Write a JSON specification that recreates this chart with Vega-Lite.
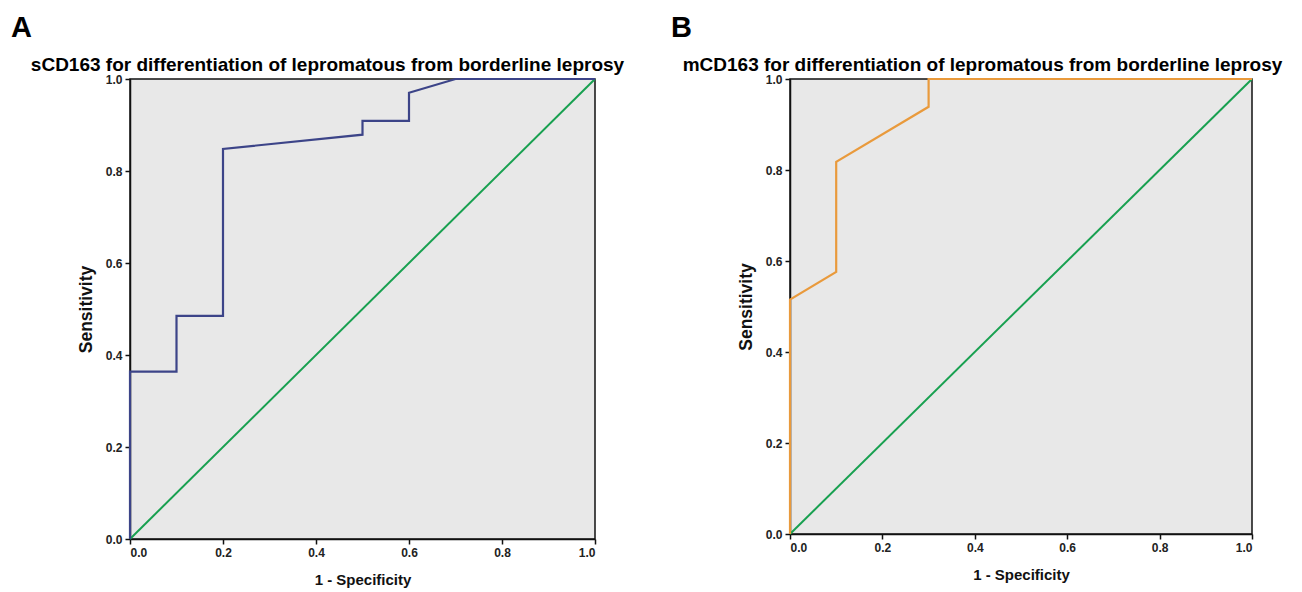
{
  "$schema": "https://vega.github.io/schema/vega-lite/v6.json",
  "autosize": {"type": "pad"},
  "padding": {"left": 10, "top": 13, "right": 5, "bottom": 5},
  "background": "white",
  "bounds": "flush",
  "spacing": 195,
  "config": {
    "font": "Liberation Sans",
    "view": {"fill": "#e8e8e8", "stroke": "#111111", "strokeWidth": 1.5},
    "axis": {
      "domainColor": "#111111", "domainWidth": 1.5,
      "tickColor": "#111111", "tickWidth": 1.5, "tickSize": 5,
      "labelFont": "Liberation Sans", "labelFontSize": 12, "labelFontWeight": "bold", "labelColor": "#222222", "labelPadding": 3,
      "titleFont": "Liberation Sans", "titleFontSize": 15, "titleFontWeight": "bold", "titleColor": "#111111",
      "grid": false
    }
  },
  "datasets": {
    "rocA": [
      {"i": 0, "fpr": 0.0, "tpr": 0.0},
      {"i": 1, "fpr": 0.0, "tpr": 0.364},
      {"i": 2, "fpr": 0.1, "tpr": 0.364},
      {"i": 3, "fpr": 0.1, "tpr": 0.485},
      {"i": 4, "fpr": 0.2, "tpr": 0.485},
      {"i": 5, "fpr": 0.2, "tpr": 0.848},
      {"i": 6, "fpr": 0.5, "tpr": 0.879},
      {"i": 7, "fpr": 0.5, "tpr": 0.909},
      {"i": 8, "fpr": 0.6, "tpr": 0.909},
      {"i": 9, "fpr": 0.6, "tpr": 0.97},
      {"i": 10, "fpr": 0.7, "tpr": 1.0},
      {"i": 11, "fpr": 1.0, "tpr": 1.0}
    ],
    "rocB": [
      {"i": 0, "fpr": 0.0, "tpr": 0.0},
      {"i": 1, "fpr": 0.0, "tpr": 0.515},
      {"i": 2, "fpr": 0.1, "tpr": 0.576},
      {"i": 3, "fpr": 0.1, "tpr": 0.818},
      {"i": 4, "fpr": 0.3, "tpr": 0.939},
      {"i": 5, "fpr": 0.3, "tpr": 1.0},
      {"i": 6, "fpr": 1.0, "tpr": 1.0}
    ],
    "diag": [
      {"i": 0, "fpr": 0.0, "tpr": 0.0},
      {"i": 1, "fpr": 1.0, "tpr": 1.0}
    ]
  },
  "hconcat": [
    {
      "width": 465,
      "height": 460,
      "title": {"text": "A", "anchor": "start", "frame": "group", "dx": -119, "fontSize": 29, "fontWeight": "bold", "color": "#000000", "offset": 12},
      "resolve": {"axis": {"x": "independent"}},
      "layer": [
        {
          "data": {"name": "diag"},
          "mark": {"type": "line", "color": "#18a050", "strokeWidth": 2},
          "encoding": {
            "x": {"field": "fpr", "type": "quantitative", "scale": {"domain": [0, 1], "nice": false},
              "axis": {"orient": "top", "labels": false, "ticks": false, "domain": false, "title": "sCD163 for differentiation of lepromatous from borderline leprosy", "titleFontSize": 19, "titleColor": "#000000", "titlePadding": 5, "titleX": 197, "titleAlign": "center"}},
            "y": {"field": "tpr", "type": "quantitative", "scale": {"domain": [0, 1], "nice": false},
              "axis": {"title": "Sensitivity", "titleFontSize": 17.5, "values": [0, 0.2, 0.4, 0.6, 0.8, 1.0], "format": ".1f", "titlePadding": 10}},
            "order": {"field": "i"}
          }
        },
        {
          "data": {"name": "rocA"},
          "mark": {"type": "line", "color": "#3c4488", "strokeWidth": 2.2},
          "encoding": {
            "x": {"field": "fpr", "type": "quantitative", "scale": {"domain": [0, 1], "nice": false},
              "axis": {"title": "1 - Specificity", "values": [0, 0.2, 0.4, 0.6, 0.8, 1.0], "format": ".1f", "titlePadding": 14}},
            "y": {"field": "tpr", "type": "quantitative", "scale": {"domain": [0, 1], "nice": false},
              "axis": {"title": "Sensitivity", "titleFontSize": 17.5, "values": [0, 0.2, 0.4, 0.6, 0.8, 1.0], "format": ".1f", "titlePadding": 10}},
            "order": {"field": "i"}
          }
        }
      ]
    },
    {
      "width": 462,
      "height": 455,
      "title": {"text": "B", "anchor": "start", "frame": "group", "dx": -119, "fontSize": 29, "fontWeight": "bold", "color": "#000000", "offset": 12},
      "resolve": {"axis": {"x": "independent"}},
      "layer": [
        {
          "data": {"name": "diag"},
          "mark": {"type": "line", "color": "#18a050", "strokeWidth": 2},
          "encoding": {
            "x": {"field": "fpr", "type": "quantitative", "scale": {"domain": [0, 1], "nice": false},
              "axis": {"orient": "top", "labels": false, "ticks": false, "domain": false, "title": "mCD163 for differentiation of lepromatous from borderline leprosy", "titleFontSize": 19, "titleColor": "#000000", "titlePadding": 5, "titleX": 192, "titleAlign": "center"}},
            "y": {"field": "tpr", "type": "quantitative", "scale": {"domain": [0, 1], "nice": false},
              "axis": {"title": "Sensitivity", "titleFontSize": 17.5, "values": [0, 0.2, 0.4, 0.6, 0.8, 1.0], "format": ".1f", "titlePadding": 10}},
            "order": {"field": "i"}
          }
        },
        {
          "data": {"name": "rocB"},
          "mark": {"type": "line", "color": "#e99a3c", "strokeWidth": 2.2},
          "encoding": {
            "x": {"field": "fpr", "type": "quantitative", "scale": {"domain": [0, 1], "nice": false},
              "axis": {"title": "1 - Specificity", "values": [0, 0.2, 0.4, 0.6, 0.8, 1.0], "format": ".1f", "titlePadding": 14}},
            "y": {"field": "tpr", "type": "quantitative", "scale": {"domain": [0, 1], "nice": false},
              "axis": {"title": "Sensitivity", "titleFontSize": 17.5, "values": [0, 0.2, 0.4, 0.6, 0.8, 1.0], "format": ".1f", "titlePadding": 10}},
            "order": {"field": "i"}
          }
        }
      ]
    }
  ]
}
